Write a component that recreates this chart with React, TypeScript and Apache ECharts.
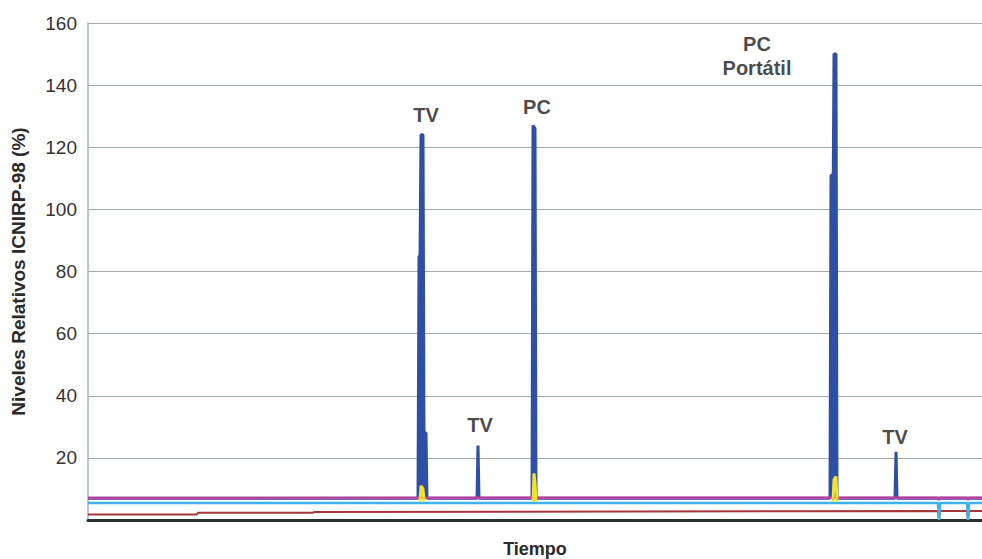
import React, { useEffect, useRef } from "react";
import * as echarts from "echarts";

// Time axis in arbitrary units (0..894)
const yTicks = [0, 20, 40, 60, 80, 100, 120, 140, 160];

const blueSeries: (number | null)[][] = [
  [0, 7], [330, 7], [331, 85], [332, 85], [333, 124], [335, 124], [336, 28], [338, 28], [339, 7],
  [389, 7], [390, 24], [391, 7],
  [444, 7], [445, 127], [447, 126], [448, 7],
  [742, 7], [743, 111], [744, 111], [745, 97], [746, 150], [748, 150], [749, 7],
  [807, 7], [808, 22], [809, 7], [894, 7],
];

const yellowSeries: (number | null)[][] = [
  [332, 6], [333, 11], [335, 10], [336, 6], [337, null],
  [445, 6], [446, 15], [447, 12], [448, 6], [449, null],
  [745, 6], [746, 13], [748, 14], [749, 6],
];

const magentaSeries: number[][] = [
  [0, 7.1], [850, 7.2], [851, 6.4], [852, 7.2], [879, 7.2], [880, 6.4], [881, 7.2], [894, 7.2],
];

const cyanSeries: number[][] = [
  [0, 5.5], [850, 5.5], [851, 0], [852, 5.5], [879, 5.5], [880, 0], [881, 5.5], [894, 5.5],
];

const brownSeries: number[][] = [
  [0, 1.8], [109, 1.8], [110, 2.35], [225, 2.35], [226, 2.55], [850, 2.9], [851, 0], [852, 2.9],
  [879, 2.9], [880, 0], [881, 2.9], [894, 2.9],
];

const annotationLabels = ["TV", "TV", "PC", "PC\nPortátil", "TV"];
const annotationPoints = [
  [338, 130.3],
  [392, 30.6],
  [449, 133],
  [669, 149.5],
  [807, 26.7],
];

const FONT = "'Liberation Sans', Arial, sans-serif";

export default function App() {
  const ref = useRef<HTMLDivElement>(null);
  useEffect(() => {
    if (!ref.current) return;
    const chart = echarts.init(ref.current, null, { renderer: "svg" });
    const line = (data: any[], color: string, width: number, z: number) => ({
      type: "line",
      data,
      showSymbol: false,
      symbol: "none",
      connectNulls: false,
      lineStyle: { color, width },
      z,
      silent: true,
    });
    chart.setOption({
      animation: false,
      backgroundColor: "#ffffff",
      grid: { left: 88, right: 0, top: 23, bottom: 39, containLabel: false, outerBoundsMode: "none" },
      xAxis: {
        type: "value",
        min: 0,
        max: 894,
        name: "Tiempo",
        nameLocation: "middle",
        nameGap: 20,
        nameTextStyle: { fontFamily: FONT, fontWeight: "bold", fontSize: 18, color: "#2a2a2a" },
        axisLine: { show: true, lineStyle: { color: "#24302a", width: 3 } },
        axisTick: { show: false },
        axisLabel: { show: false },
        splitLine: { show: false },
      },
      yAxis: {
        type: "value",
        min: yTicks[0],
        max: yTicks[yTicks.length - 1],
        interval: 20,
        name: "Niveles Relativos ICNIRP-98 (%)",
        nameLocation: "middle",
        nameGap: 60,
        nameRotate: 90,
        nameTextStyle: { fontFamily: FONT, fontWeight: "bold", fontSize: 19, color: "#2a2a2a" },
        axisLine: { show: true, lineStyle: { color: "#9fb2c8", width: 1.5 } },
        axisTick: { show: false },
        axisLabel: {
          fontFamily: FONT,
          fontSize: 19,
          color: "#333333",
          margin: 11,
          formatter: (v: number) => (v === 0 ? "" : String(v)),
        },
        splitLine: { show: true, lineStyle: { color: "#a4a9aa", width: 1 } },
      },
      series: [
        { ...line(blueSeries, "#2d4fa6", 3, 1), areaStyle: { color: "#2d4fa6", opacity: 1, origin: 7 } },
        line(brownSeries, "#a6363a", 2, 2),
        line(cyanSeries, "#3fb2ea", 2.5, 3),
        line(magentaSeries, "#c13f9e", 2.5, 5),
        line(yellowSeries, "#f2e22a", 3, 6),
        {
          type: "scatter",
          data: annotationPoints.map((p, i) => ({ name: annotationLabels[i], value: p })),
          symbol: "circle",
          symbolSize: 2,
          itemStyle: { color: "rgba(0,0,0,0)" },
          silent: true,
          z: 10,
          label: {
            show: true,
            position: "inside",
            formatter: (p: any) => p.name,
            fontFamily: FONT,
            fontWeight: "bold",
            fontSize: 20,
            lineHeight: 24,
            color: "#1a1a1a",
            textBorderWidth: 0,
            align: "center",
            verticalAlign: "middle",
          },
        },
      ],
    });
    return () => chart.dispose();
  }, []);
  return (
    <div
      ref={ref}
      style={{ position: "fixed", left: 0, top: 0, width: 982, height: 559, background: "#fff" }}
    />
  );
}
